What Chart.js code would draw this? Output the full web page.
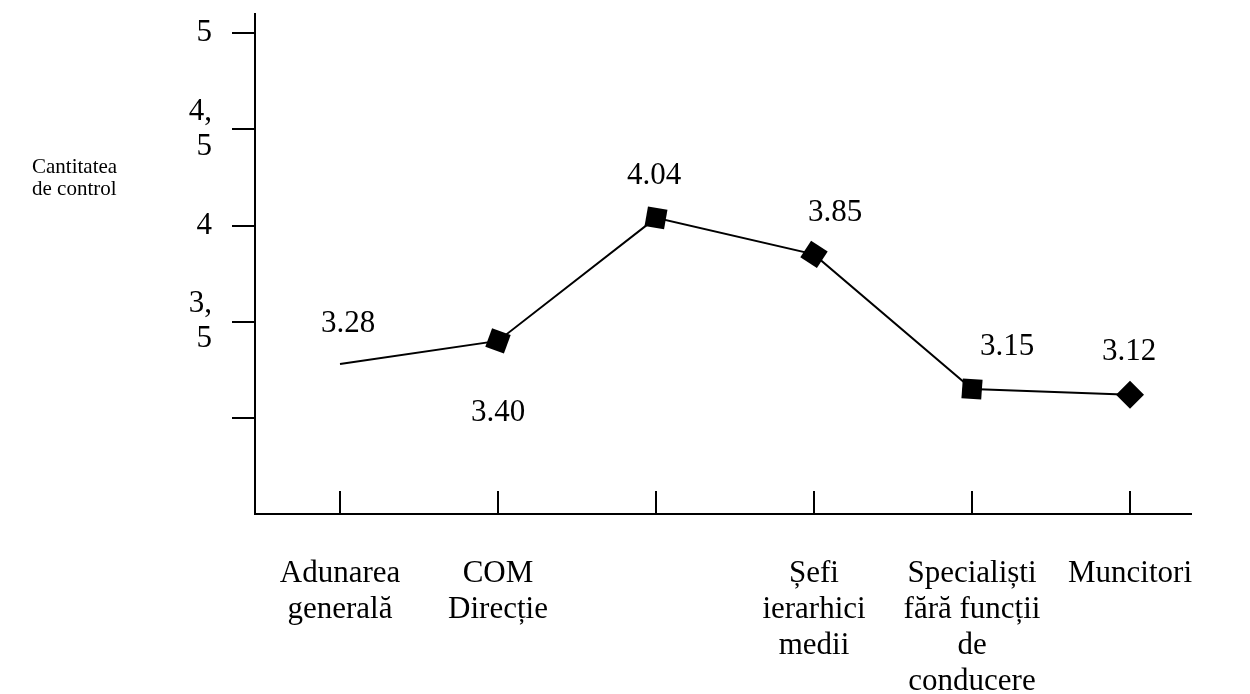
<!DOCTYPE html>
<html>
<head>
<meta charset="utf-8">
<script src="https://cdn.jsdelivr.net/npm/chart.js@4/dist/chart.umd.min.js"></script>
<style>
  html, body { margin: 0; padding: 0; background: #ffffff; }
  #wrap { width: 1250px; height: 694px; }
</style>
</head>
<body>
<div id="wrap"><canvas id="c" width="1250" height="694"></canvas></div>
<script>
// Categories (multi-line tick labels), values and axis tick labels
const categories = [
  ['Adunarea', 'generală'],
  ['COM', 'Direcție'],
  '',
  ['Șefi', 'ierarhici', 'medii'],
  ['Specialiști', 'fără funcții', 'de', 'conducere'],
  'Muncitori'
];
const controlValues = [3.28, 3.40, 4.04, 3.85, 3.15, 3.12];
const yTickValues = [3, 3.5, 4, 4.5, 5];
const yTickLabels = ['', ['3,', '5'], '4', ['4,', '5'], '5'];
const axisTitle = ['Cantitatea', 'de control'];

const SERIF = "'Liberation Serif', 'Times New Roman', serif";

// Value labels next to each marker
const valueLabels = {
  id: 'valueLabels',
  afterDatasetsDraw(chart, args, opts) {
    const ctx = chart.ctx;
    const meta = chart.getDatasetMeta(0);
    ctx.save();
    ctx.font = `31px ${SERIF}`;
    ctx.fillStyle = '#000';
    ctx.textAlign = 'center';
    ctx.textBaseline = 'middle';
    meta.data.forEach((pt, i) => {
      const [dx, dy] = opts.offsets[i];
      ctx.fillText(controlValues[i].toFixed(2), pt.x + dx, pt.y + dy);
    });
    ctx.restore();
  }
};

// Horizontal axis caption to the left of the value axis
const sideTitle = {
  id: 'sideTitle',
  afterDraw(chart, args, opts) {
    const ctx = chart.ctx;
    ctx.save();
    ctx.font = `21px ${SERIF}`;
    ctx.fillStyle = '#000';
    ctx.textAlign = 'left';
    ctx.textBaseline = 'alphabetic';
    opts.lines.forEach((t, i) => ctx.fillText(t, opts.x, opts.y + i * opts.lineHeight));
    ctx.restore();
  }
};

new Chart(document.getElementById('c'), {
  type: 'line',
  data: {
    datasets: [{
      data: controlValues.map((v, i) => ({ x: i, y: v })),
      borderColor: '#000',
      borderWidth: 2,
      backgroundColor: '#000',
      pointBackgroundColor: '#000',
      pointBorderColor: '#000',
      pointBorderWidth: 0,
      pointStyle: 'rect',
      pointRadius: [0, 14, 14, 14, 14, 14],
      pointRotation: [0, 20, 10, 33, 4, 45],
      pointHoverRadius: [0, 14, 14, 14, 14, 14],
      tension: 0,
      fill: false,
      clip: false
    }]
  },
  options: {
    responsive: false,
    animation: false,
    devicePixelRatio: 1,
    layout: { padding: { top: 12, right: 59, left: 0, bottom: 0 } },
    plugins: {
      legend: { display: false },
      tooltip: { enabled: false },
      valueLabels: {
        offsets: [[8, -40], [0, 72], [-2, -42], [21, -42], [35, -42], [-1, -43]]
      },
      sideTitle: { lines: axisTitle, x: 32, y: 173, lineHeight: 22 }
    },
    scales: {
      x: {
        type: 'linear',
        min: -0.538,
        max: 5.386,
        afterBuildTicks(scale) {
          scale.ticks = categories.map((_, i) => ({ value: i }));
        },
        afterFit(scale) {
          scale.height = 180;
          scale.paddingLeft = 0;
          scale.paddingRight = 0;
        },
        border: { display: true, color: '#000', width: 2 },
        grid: {
          drawOnChartArea: false,
          drawTicks: true,
          tickLength: -23,
          color: '#000',
          lineWidth: 2
        },
        ticks: {
          autoSkip: false,
          maxRotation: 0,
          minRotation: 0,
          padding: 65,
          color: '#000',
          font: { family: SERIF, size: 31, lineHeight: 1.16 },
          callback: (v) => categories[v]
        }
      },
      y: {
        type: 'linear',
        min: 2.5,
        max: 5.1,
        afterBuildTicks(scale) {
          scale.ticks = yTickValues.map(v => ({ value: v }));
        },
        afterFit(scale) {
          scale.width = 255;
          scale.paddingTop = 0;
          scale.paddingBottom = 0;
        },
        border: { display: true, color: '#000', width: 2 },
        grid: {
          drawOnChartArea: false,
          drawTicks: true,
          tickLength: 23,
          color: '#000',
          lineWidth: 2
        },
        ticks: {
          autoSkip: false,
          padding: 20,
          color: '#000',
          font: { family: SERIF, size: 31, lineHeight: 1.13 },
          callback: (v) => yTickLabels[yTickValues.indexOf(v)]
        }
      }
    }
  },
  plugins: [valueLabels, sideTitle]
});
</script>
</body>
</html>
